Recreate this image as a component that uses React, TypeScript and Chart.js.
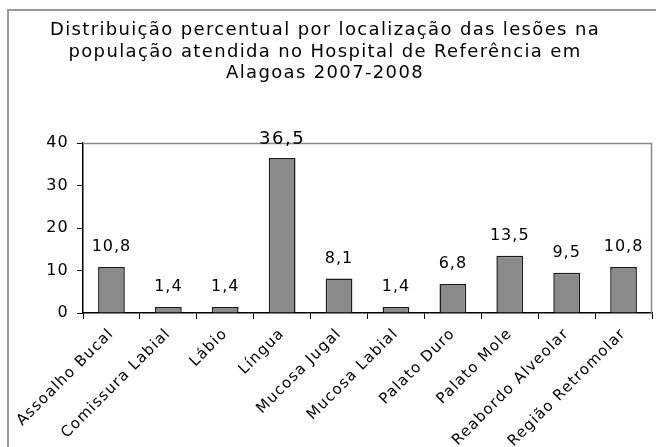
import React, { useEffect, useRef } from "react";
import { Chart, registerables } from "chart.js";

Chart.register(...registerables);

const categories = [
  "Assoalho Bucal",
  "Comissura Labial",
  "Lábio",
  "Língua",
  "Mucosa Jugal",
  "Mucosa Labial",
  "Palato Duro",
  "Palato Mole",
  "Reabordo Alveolar",
  "Região Retromolar",
];
const values = [10.8, 1.4, 1.4, 36.5, 8.1, 1.4, 6.8, 13.5, 9.5, 10.8];
const titleLines = [
  "Distribuição percentual por localização das lesões na",
  "população atendida no Hospital de Referência em",
  "Alagoas 2007-2008",
];
const yTicks = [0, 10, 20, 30, 40];

const FONT = "'DejaVu Sans', Verdana, sans-serif";

const decorPlugin = {
  id: "decor",
  beforeDraw(chart: any) {
    const ctx = chart.ctx;
    ctx.save();
    ctx.fillStyle = "#ffffff";
    ctx.fillRect(0, 0, chart.width, chart.height);
    ctx.strokeStyle = "#9a9a9a";
    ctx.lineWidth = 2;
    ctx.strokeRect(8, 10, chart.width + 20, chart.height + 20);
    // title
    ctx.fillStyle = "#000";
    ctx.font = `18px ${FONT}`;
    (ctx as any).letterSpacing = "1.35px";
    ctx.textAlign = "center";
    ctx.textBaseline = "alphabetic";
    titleLines.forEach((t, i) => ctx.fillText(t, 325, 35 + i * 21.5));
    ctx.restore();
    (ctx as any).letterSpacing = "1.2px";
  },
  afterDatasetsDraw(chart: any) {
    const ctx = chart.ctx;
    const { chartArea } = chart;
    ctx.save();
    // plot box top/right
    ctx.strokeStyle = "#8a8a8a";
    ctx.lineWidth = 1.5;
    ctx.beginPath();
    ctx.moveTo(chartArea.left, chartArea.top + 0.5);
    ctx.lineTo(chartArea.right - 0.5, chartArea.top + 0.5);
    ctx.lineTo(chartArea.right - 0.5, chartArea.bottom);
    ctx.stroke();
    // data labels
    const meta = chart.getDatasetMeta(0);
    ctx.fillStyle = "#000";
    ctx.textAlign = "center";
    ctx.textBaseline = "bottom";
    meta.data.forEach((el: any, i: number) => {
      const v = values[i];
      const big = v > 30;
      ctx.font = `${big ? 18 : 16}px ${FONT}`;
      (ctx as any).letterSpacing = big ? "1.5px" : "1px";
      ctx.fillText(v.toFixed(1).replace(".", ","), el.x, el.y - (big ? 10 : 12));
    });
    ctx.restore();
  },
  afterDraw(chart: any) {
    (chart.ctx as any).letterSpacing = "0px";
  },
};

export default function App() {
  const ref = useRef<HTMLCanvasElement>(null);
  useEffect(() => {
    if (!ref.current) return;
    const chart = new Chart(ref.current, {
      type: "bar",
      data: {
        labels: categories,
        datasets: [
          {
            data: values,
            backgroundColor: "#8a8a8a",
            borderColor: "#1a1a1a",
            borderWidth: 1.5,
            barPercentage: 0.47,
            categoryPercentage: 1,
          },
        ],
      },
      plugins: [decorPlugin],
      options: {
        animation: false,
        responsive: false,
        maintainAspectRatio: false,
        layout: { padding: { top: 143, right: 4, left: 0, bottom: 0 } },
        plugins: {
          legend: { display: false },
          title: { display: false },
          tooltip: { enabled: false },
        },
        scales: {
          x: {
            afterFit(scale: any) {
              scale.height = 134;
            },
            grid: {
              display: true,
              offset: true,
              drawOnChartArea: false,
              drawTicks: true,
              tickLength: 6,
              color: "#000",
            },
            border: { display: true, color: "#000", width: 1.5 },
            ticks: {
              color: "#000",
              font: { family: FONT, size: 15 },
              minRotation: 45,
              maxRotation: 45,
              autoSkip: false,
              padding: 6,
            },
          },
          y: {
            min: 0,
            max: 40,
            afterFit(scale: any) {
              scale.width = 83;
            },
            afterBuildTicks(scale: any) {
              scale.ticks = yTicks.map((v) => ({ value: v }));
            },
            grid: {
              display: true,
              drawOnChartArea: false,
              drawTicks: true,
              tickLength: 6,
              color: "#000",
            },
            border: { display: true, color: "#000", width: 1.5 },
            ticks: {
              color: "#000",
              font: { family: FONT, size: 16 },
              padding: 8,
            },
          },
        },
      },
    });
    return () => chart.destroy();
  }, []);
  return (
    <div style={{ position: "fixed", left: 0, top: 0, width: 656, height: 447 }}>
      <canvas ref={ref} width={656} height={447} style={{ width: 656, height: 447 }} />
    </div>
  );
}
